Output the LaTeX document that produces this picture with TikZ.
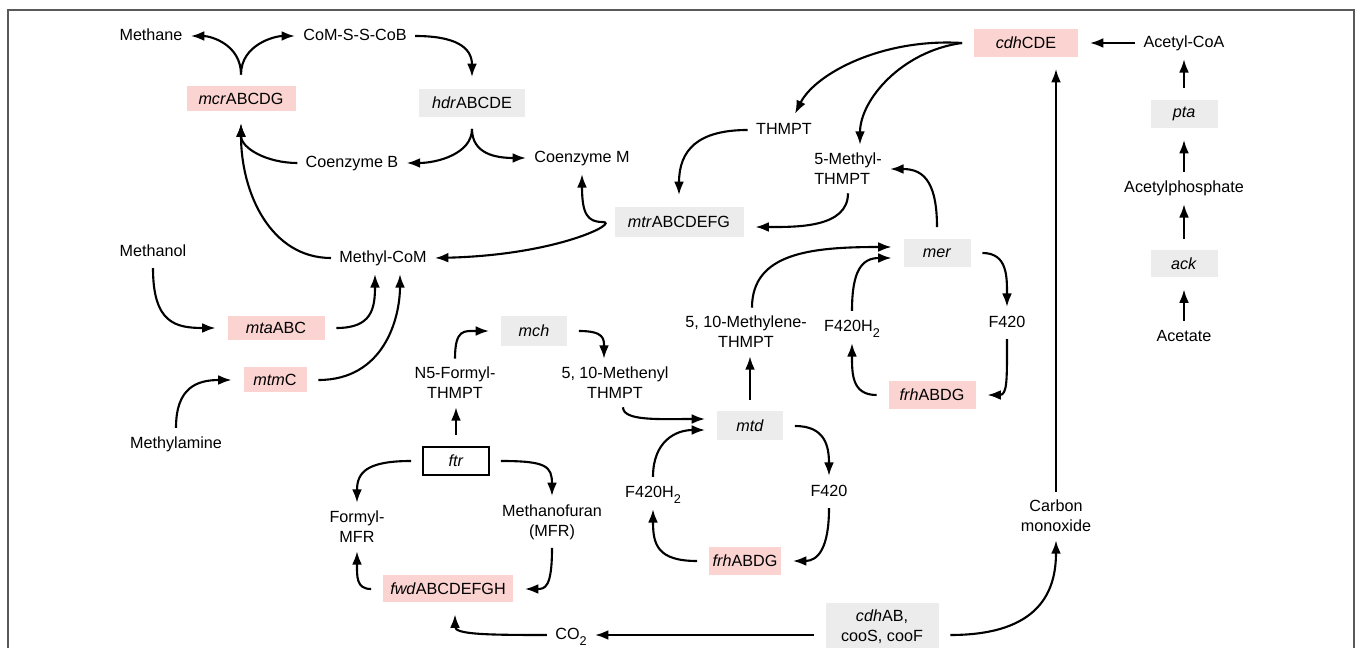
\documentclass[tikz,border=0pt]{standalone}
\usepackage{fontspec}
\setmainfont{Liberation Sans}
\usetikzlibrary{arrows.meta,calc}

\definecolor{genepink}{RGB}{251,212,210}
\definecolor{genegray}{RGB}{236,236,236}
\newlength\px
\setlength\px{0.025cm}
\newcommand\lowsub[1]{\raisebox{-4.5pt}{\fontsize{9}{9}\selectfont #1}}

\begin{document}
\begin{tikzpicture}[x=0.025cm, y=-0.025cm,
  every node/.style={font=\fontsize{11.5}{14.2}\selectfont},
  >={Latex[length=9.5pt,width=7pt]},
  mol/.style={inner sep=0pt, outer sep=6pt, text height=8.5pt, text depth=2.5pt},
  molii/.style={inner sep=0pt, outer sep=6pt, align=center},
  gene/.style={fill=genegray, inner xsep=2pt, inner ysep=0pt, outer sep=8.5pt,
               minimum height=28\px},
  pinkgene/.style={gene, fill=genepink},
  arr/.style={->, line width=1.5pt}]

  \useasboundingbox (0,0) rectangle (1357,648);
  \draw[black!65, line width=1.2pt] (8,660) -- (8,10) -- (1354,10) -- (1354,660);

  % methyl-CoM reduction and heterodisulfide
  \node[mol] (methane)  at (151,36) {Methane};
  \node[mol] (comsscob) at (355,36) {CoM-S-S-CoB};
  \node[pinkgene, minimum width=109\px, minimum height=25\px] (mcr) at (241,99) {\textit{mcr}ABCDG};
  \node[gene, minimum width=106\px] (hdr) at (472,103) {\textit{hdr}ABCDE};
  \node[mol] (cob) at (352,163) {Coenzyme B};
  \node[mol] (com) at (582,158) {Coenzyme M};
  \node[mol] (methylcom) at (383,258) {Methyl-CoM};

  % methylotrophic entry
  \node[mol] (methanol) at (153,252) {Methanol};
  \node[pinkgene, minimum width=97\px, minimum height=24\px] (mta) at (276,328) {\textit{mta}ABC};
  \node[pinkgene, minimum width=63\px, minimum height=25\px] (mtm) at (275,380) {\textit{mtm}C};
  \node[mol] (methylamine) at (176,444) {Methylamine};

  % THMPT branch
  \node[mol] (thmpt) at (784,130) {THMPT};
  \node[molii, align=left] (methylthmpt) at (848,169) {5-Methyl-\\THMPT};
  \node[gene, minimum width=129\px, minimum height=30\px] (mtr) at (679,222) {\textit{mtr}ABCDEFG};
  \node[pinkgene, minimum width=104\px] (cdhcde) at (1026,43) {\textit{cdh}CDE};
  \node[gene, minimum width=67\px] (mer) at (937,253) {\textit{mer}};
  \node[molii] (methylene) at (746,332) {5, 10-Methylene-\\THMPT};
  \node[mol] (fhtwoa) at (852,327) {F420H\lowsub{2}};
  \node[mol] (ffoura) at (1007,323) {F420};
  \node[pinkgene, minimum width=87\px] (frha) at (932,395) {\textit{frh}ABDG};
  \node[gene, minimum width=66\px, minimum height=29\px] (mtd) at (750,426) {\textit{mtd}};
  \node[molii] (methenyl) at (615,383) {5, 10-Methenyl\\THMPT};
  \node[mol] (fhtwob) at (653,493) {F420H\lowsub{2}};
  \node[mol] (ffourb) at (829,492) {F420};
  \node[pinkgene, minimum width=72\px] (frhb) at (745,561) {\textit{frh}ABDG};
  \node[gene, minimum width=66\px, minimum height=30\px] (mch) at (534,331) {\textit{mch}};
  \node[molii] (nformyl) at (455,383) {N5-Formyl-\\THMPT};
  \node[gene, fill=white, draw, line width=1pt, minimum width=66\px] (ftr) at (456,461) {\textit{ftr}};
  \node[molii] (formylmfr) at (357,527) {Formyl-\\MFR};
  \node[molii] (mfr) at (552,522) {Methanofuran\\(MFR)};
  \node[pinkgene, minimum width=130\px, minimum height=27\px] (fwd) at (448,589) {\textit{fwd}ABCDEFGH};
  \node[mol] (co2) at (571,635) {CO\lowsub{2}};
  \node[gene, align=center, minimum width=113\px, minimum height=48\px] (cdhab) at (882,627) {\textit{cdh}AB,\\cooS, cooF};
  \node[molii] (co) at (1056,516) {Carbon\\monoxide};

  % acetate activation
  \node[mol] (acetylcoa) at (1184,43) {Acetyl-CoA};
  \node[gene, minimum width=67\px] (pta) at (1184,114) {\textit{pta}};
  \node[mol] (acetylp) at (1184,188) {Acetylphosphate};
  \node[gene, minimum width=67\px, minimum height=27\px] (ack) at (1184,264) {\textit{ack}};
  \node[mol] (acetate) at (1184,337) {Acetate};

  % connectors, top left
  \draw[arr] (mcr.north) .. controls +(0,-30) and +(20,0) .. (methane.east);
  \draw[arr] (mcr.north) .. controls +(0,-30) and +(-20,0) .. (comsscob.west);
  \draw[arr] (comsscob.east) .. controls +(40,0) and +(0,-30) .. (hdr.north);
  \draw[arr] (hdr.south) .. controls +(0,25) and +(30,0) .. (cob.east);
  \draw[arr] (hdr.south) .. controls +(0,25) and +(-30,0) .. (com.west);
  \draw[arr] (cob.west) .. controls +(-30,0) and +(0,25) .. (mcr.south);
  \draw[arr] (methylcom.west) .. controls +(-60,0) and +(0,70) .. (mcr.south);
  \draw[<->, line width=1.5pt] (com.south) .. controls +(0,40) and +(-15,0) .. (mtr.west)
    .. controls +(18,0) and +(124,-3) .. (methylcom.east);

  \draw[arr] (methanol.south) .. controls +(0,55) and +(-40,0) .. (mta.west);
  \draw[arr] (mta.east) .. controls +(35,0) and +(0,35) .. ([xshift=-8\px]methylcom.south);
  \draw[arr] (methylamine.north) .. controls +(0,-40) and +(-35,0) .. (mtm.west);
  \draw[arr] (mtm.east) .. controls +(65,0) and +(0,45) .. ([xshift=17\px]methylcom.south);

  % THMPT side
  \draw[arr] (cdhcde.west) .. controls +(-80,-5) and +(20,-40) .. ([xshift=11\px]thmpt.north);
  \draw[arr] (cdhcde.west) .. controls +(-60,8) and +(0,-45) .. ([xshift=12\px]methylthmpt.north);
  \draw[arr] (thmpt.west) .. controls +(-50,0) and +(0,-45) .. (mtr.north);
  \draw[arr] (methylthmpt.south) .. controls +(0,35) and +(40,0) .. ([yshift=-5\px]mtr.east);
  \draw[arr] (mer.north) .. controls +(0,-50) and +(30,0) .. (methylthmpt.east);
  \draw[arr] ([xshift=6\px]methylene.north) .. controls +(0,-55) and +(-80,0) .. ([yshift=6\px]mer.west);
  \draw[arr] (fhtwoa.north) .. controls +(0,-40) and +(-30,0) .. ([yshift=-5\px]mer.west);
  \draw[arr] (mer.east) .. controls +(25,0) and +(0,-30) .. (ffoura.north);
  \draw[arr] (ffoura.south) .. controls +(0,40) and +(20,0) .. (frha.east);
  \draw[arr] (frha.west) .. controls +(-25,0) and +(0,30) .. (fhtwoa.south);

  \draw[arr] (mtd.north) -- (mtd.north |- methylene.south);
  \draw[arr] ([xshift=8\px]methenyl.south) .. controls +(0,14) and +(-45,0) .. ([yshift=7\px]mtd.west);
  \draw[arr] (fhtwob.north) .. controls +(0,-35) and +(-30,0) .. ([yshift=-4\px]mtd.west);
  \draw[arr] (mtd.east) .. controls +(30,0) and +(0,-30) .. (ffourb.north);
  \draw[arr] (ffourb.south) .. controls +(0,40) and +(25,0) .. (frhb.east);
  \draw[arr] (frhb.west) .. controls +(-40,0) and +(0,35) .. (fhtwob.south);

  \draw[arr] (nformyl.north) .. controls +(0,-30) and +(-25,0) .. (mch.west);
  \draw[arr] (mch.east) .. controls +(25,0) and +(0,-20) .. ([xshift=-11\px]methenyl.north);
  \draw[arr] (ftr.north) -- (ftr.north |- nformyl.south);
  \draw[arr] (ftr.west) .. controls +(-45,0) and +(0,-30) .. (formylmfr.north);
  \draw[arr] (ftr.east) .. controls +(45,0) and +(0,-30) .. (mfr.north);
  \draw[arr] (mfr.south) .. controls +(0,40) and +(20,0) .. (fwd.east);
  \draw[arr] (fwd.west) .. controls +(-15,0) and +(0,25) .. (formylmfr.south);

  % CO2 / CO
  \draw[arr] (co2.west) .. controls +(-60,0) and +(0,20) .. ([xshift=7\px]fwd.south);
  \draw[arr] (co2.east -| cdhab.west) -- (co2.east);
  \draw[arr] ([yshift=-8\px]cdhab.east) .. controls +(90,0) and +(0,50) .. (co.south);
  \draw[arr] (co.north) -- (co.north |- cdhcde.south);

  % acetate column
  \draw[arr] (acetylcoa.west) -- (cdhcde.east);
  \draw[arr] (pta.north) -- (acetylcoa.south);
  \draw[arr] (acetylp.north) -- (pta.south);
  \draw[arr] (ack.north) -- (acetylp.south);
  \draw[arr] (acetate.north) -- (ack.south);
\end{tikzpicture}
\end{document}
